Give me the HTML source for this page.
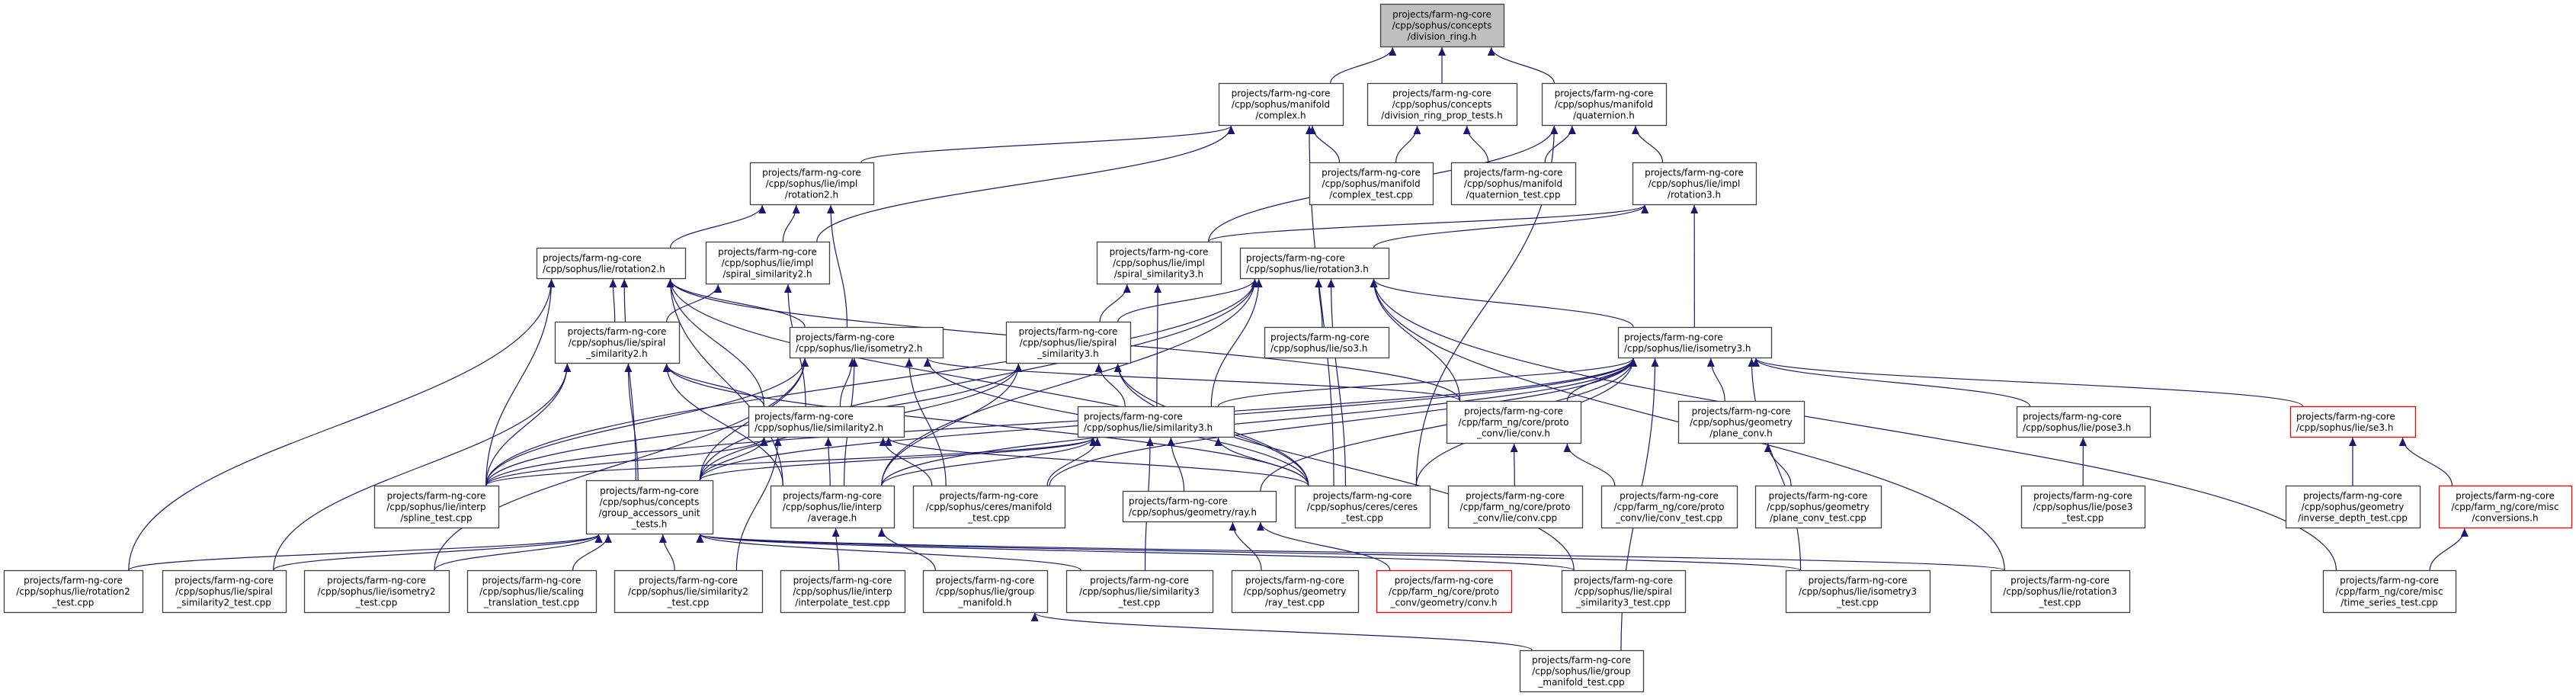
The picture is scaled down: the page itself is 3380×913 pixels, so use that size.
<!DOCTYPE html>
<html><head><meta charset="utf-8"><style>
html,body{margin:0;padding:0;background:#fff;}
svg{display:block;}
text{font-family:"DejaVu Sans","Liberation Sans",sans-serif;font-size:12px;fill:#000;}
</style></head><body>
<svg id="g" width="3380" height="913" viewBox="0 0 3380 913" xmlns="http://www.w3.org/2000/svg">
<defs><marker id="a" markerUnits="userSpaceOnUse" markerWidth="12" markerHeight="10" refX="11" refY="5" orient="auto"><path d="M0,0 L11,5 L0,10 z" fill="#191970"/></marker></defs>
<g id="E" fill="none" stroke="#191970" stroke-width="1.2"></g>
<g id="N"></g>
</svg>
<script>
var N={
root:[1811,1973,5,61,["projects/farm-ng-core","/cpp/sophus/concepts","/division_ring.h"],"g"],
complex:[1599,1762,109,164,["projects/farm-ng-core","/cpp/sophus/manifold","/complex.h"]],
divprop:[1794,1990,109,164,["projects/farm-ng-core","/cpp/sophus/concepts","/division_ring_prop_tests.h"]],
quat:[2023,2186,109,164,["projects/farm-ng-core","/cpp/sophus/manifold","/quaternion.h"]],
cplxtest:[1718,1880,213,268,["projects/farm-ng-core","/cpp/sophus/manifold","/complex_test.cpp"]],
quattest:[1904,2067,213,268,["projects/farm-ng-core","/cpp/sophus/manifold","/quaternion_test.cpp"]],
irot2:[984,1146,213,268,["projects/farm-ng-core","/cpp/sophus/lie/impl","/rotation2.h"]],
irot3:[2142,2304,213,268,["projects/farm-ng-core","/cpp/sophus/lie/impl","/rotation3.h"]],
rot2:[704,899,325,365,["projects/farm-ng-core","/cpp/sophus/lie/rotation2.h"]],
iss2:[926,1088,317,372,["projects/farm-ng-core","/cpp/sophus/lie/impl","/spiral_similarity2.h"]],
iss3:[1439,1602,317,372,["projects/farm-ng-core","/cpp/sophus/lie/impl","/spiral_similarity3.h"]],
rot3:[1627,1822,325,365,["projects/farm-ng-core","/cpp/sophus/lie/rotation3.h"]],
lss2:[728,891,422,476,["projects/farm-ng-core","/cpp/sophus/lie/spiral","_similarity2.h"]],
iso2:[1036,1237,429,469,["projects/farm-ng-core","/cpp/sophus/lie/isometry2.h"]],
lss3:[1320,1483,422,476,["projects/farm-ng-core","/cpp/sophus/lie/spiral","_similarity3.h"]],
so3:[1659,1822,429,469,["projects/farm-ng-core","/cpp/sophus/lie/so3.h"]],
iso3:[2123,2324,429,469,["projects/farm-ng-core","/cpp/sophus/lie/isometry3.h"]],
sim2:[982,1186,533,573,["projects/farm-ng-core","/cpp/sophus/lie/similarity2.h"]],
sim3:[1414,1619,533,573,["projects/farm-ng-core","/cpp/sophus/lie/similarity3.h"]],
convh:[1898,2074,526,581,["projects/farm-ng-core","/cpp/farm_ng/core/proto","_conv/lie/conv.h"]],
plconv:[2202,2367,526,581,["projects/farm-ng-core","/cpp/sophus/geometry","/plane_conv.h"]],
pose3:[2646,2821,533,573,["projects/farm-ng-core","/cpp/sophus/lie/pose3.h"]],
se3:[3005,3169,533,573,["projects/farm-ng-core","/cpp/sophus/lie/se3.h"],"r"],
spline:[491,654,637,692,["projects/farm-ng-core","/cpp/sophus/lie/interp","/spline_test.cpp"]],
gacc:[769,935,630,700,["projects/farm-ng-core","/cpp/sophus/concepts","/group_accessors_unit","_tests.h"]],
avg:[1011,1173,637,692,["projects/farm-ng-core","/cpp/sophus/lie/interp","/average.h"]],
cman:[1198,1397,637,692,["projects/farm-ng-core","/cpp/sophus/ceres/manifold","_test.cpp"]],
ray:[1473,1674,644,684,["projects/farm-ng-core","/cpp/sophus/geometry/ray.h"]],
ctest:[1699,1876,637,692,["projects/farm-ng-core","/cpp/sophus/ceres/ceres","_test.cpp"]],
convcpp:[1900,2076,637,692,["projects/farm-ng-core","/cpp/farm_ng/core/proto","_conv/lie/conv.cpp"]],
convtest:[2101,2279,637,692,["projects/farm-ng-core","/cpp/farm_ng/core/proto","_conv/lie/conv_test.cpp"]],
plconvtest:[2303,2468,637,692,["projects/farm-ng-core","/cpp/sophus/geometry","/plane_conv_test.cpp"]],
pose3test:[2652,2814,637,692,["projects/farm-ng-core","/cpp/sophus/lie/pose3","_test.cpp"]],
invdepth:[2999,3175,637,692,["projects/farm-ng-core","/cpp/sophus/geometry","/inverse_depth_test.cpp"]],
conversions:[3200,3374,637,692,["projects/farm-ng-core","/cpp/farm_ng/core/misc","/conversions.h"],"r"],
rot2test:[5,187,748,803,["projects/farm-ng-core","/cpp/sophus/lie/rotation2","_test.cpp"]],
ss2test:[213,375,748,803,["projects/farm-ng-core","/cpp/sophus/lie/spiral","_similarity2_test.cpp"]],
iso2test:[399,589,748,803,["projects/farm-ng-core","/cpp/sophus/lie/isometry2","_test.cpp"]],
sctest:[613,782,748,803,["projects/farm-ng-core","/cpp/sophus/lie/scaling","_translation_test.cpp"]],
sim2test:[806,1000,748,803,["projects/farm-ng-core","/cpp/sophus/lie/similarity2","_test.cpp"]],
interp:[1024,1187,748,803,["projects/farm-ng-core","/cpp/sophus/lie/interp","/interpolate_test.cpp"]],
gman:[1211,1374,748,803,["projects/farm-ng-core","/cpp/sophus/lie/group","_manifold.h"]],
sim3test:[1399,1591,748,803,["projects/farm-ng-core","/cpp/sophus/lie/similarity3","_test.cpp"]],
raytest:[1616,1782,748,803,["projects/farm-ng-core","/cpp/sophus/geometry","/ray_test.cpp"]],
gconv:[1806,1983,748,803,["projects/farm-ng-core","/cpp/farm_ng/core/proto","_conv/geometry/conv.h"],"r"],
ss3test:[2049,2211,748,803,["projects/farm-ng-core","/cpp/sophus/lie/spiral","_similarity3_test.cpp"]],
iso3test:[2343,2532,748,803,["projects/farm-ng-core","/cpp/sophus/lie/isometry3","_test.cpp"]],
rot3test:[2612,2794,748,803,["projects/farm-ng-core","/cpp/sophus/lie/rotation3","_test.cpp"]],
tstest:[3048,3222,748,803,["projects/farm-ng-core","/cpp/farm_ng/core/misc","/time_series_test.cpp"]],
gmantest:[1994,2156,853,907,["projects/farm-ng-core","/cpp/sophus/lie/group","_manifold_test.cpp"]]
};
var E=[
["complex","root"],["divprop","root"],["quat","root"],
["irot2","complex"],["iss2","complex"],["cplxtest","complex"],["ctest","complex"],
["cplxtest","divprop"],["quattest","divprop"],
["quattest","quat"],["irot3","quat"],["iss3","quat"],["ctest","quat"],
["rot2","irot2"],["iss2","irot2"],["iso2","irot2"],
["rot3","irot3"],["iss3","irot3"],["iso3","irot3"],
["lss2","rot2"],["iso2","rot2"],["spline","rot2"],["gacc","rot2"],["rot2test","rot2"],["avg","rot2"],["convh","rot2"],["ctest","rot2"],["sim2","rot2"],
["lss2","iss2"],["sim2","iss2"],
["lss3","iss3"],["sim3","iss3"],
["so3","rot3"],["iso3","rot3"],["lss3","rot3"],["spline","rot3"],["gacc","rot3"],["avg","rot3"],["convh","rot3"],["ctest","rot3"],["rot3test","rot3"],["tstest","rot3"],["sim3","rot3"],
["sim2","lss2"],["gacc","lss2"],["spline","lss2"],["ss2test","lss2"],["avg","lss2"],["ctest","lss2"],
["sim2","iso2"],["gacc","iso2"],["spline","iso2"],["iso2test","iso2"],["avg","iso2"],["ctest","iso2"],["cman","iso2"],["convh","iso2"],
["sim3","lss3"],["gacc","lss3"],["spline","lss3"],["avg","lss3"],["ss3test","lss3"],["ctest","lss3"],
["sim3","iso3"],["convh","iso3"],["plconv","iso3"],["pose3","iso3"],["se3","iso3"],["ctest","iso3"],["ray","iso3"],["iso3test","iso3"],["gacc","iso3"],["spline","iso3"],["avg","iso3"],["gmantest","iso3"],["cman","iso3"],
["spline","sim2"],["gacc","sim2"],["avg","sim2"],["sim2test","sim2"],["ctest","sim2"],["cman","sim2"],
["spline","sim3"],["gacc","sim3"],["avg","sim3"],["cman","sim3"],["ray","sim3"],["ctest","sim3"],["sim3test","sim3"],
["convcpp","convh"],["convtest","convh"],["plconvtest","plconv"],["pose3test","pose3"],
["invdepth","se3"],["conversions","se3"],["tstest","conversions"],
["rot2test","gacc"],["ss2test","gacc"],["iso2test","gacc"],["sctest","gacc"],["sim2test","gacc"],["sim3test","gacc"],["ss3test","gacc"],["iso3test","gacc"],["rot3test","gacc"],
["interp","avg"],["gman","avg"],["raytest","ray"],["gconv","ray"],["gmantest","gman"]
];
var NS="http://www.w3.org/2000/svg";
function el(t,a,p){var e=document.createElementNS(NS,t);for(var k in a)e.setAttribute(k,a[k]);p.appendChild(e);return e;}
var gN=document.getElementById("N"),gE=document.getElementById("E");
function cl(v,m){return Math.max(-m,Math.min(m,v));}
E.forEach(function(e){
 var c=N[e[0]],p=N[e[1]];
 var ccx=(c[0]+c[1])/2,pcx=(p[0]+p[1])/2,chw=(c[1]-c[0])/2,phw=(p[1]-p[0])/2;
 var sx=ccx+cl((pcx-ccx)*0.35,chw*0.8),sy=c[2];
 var ex=pcx+cl((ccx-pcx)*0.35,phw*0.8),ey=p[3]+1;
 var d;
 if(sy<=ey+5){ // same row or below: route to side
   sx=ccx; sy=c[2]; ex=(ccx>pcx?p[1]:p[0]); ey=(p[2]+p[3])/2;
   d="M"+sx+","+sy+" C"+sx+","+(sy-60)+" "+(ex+(ccx>pcx?80:-80))+","+ey+" "+ex+","+ey;
 } else {
   var dy=sy-ey;
   d="M"+sx+","+sy+" C"+sx+","+(sy-dy*0.45)+" "+ex+","+(ey+dy*0.45)+" "+ex+","+ey;
 }
 el("path",{d:d,"marker-end":"url(#a)"},gE);
});
for(var k in N){var n=N[k];
 var st=n[5]=="r"?"#ff0000":"#404040",fill=n[5]=="g"?"#bfbfbf":"#ffffff";
 el("rect",{x:n[0]+0.5,y:n[2]+0.5,width:n[1]-n[0],height:n[3]-n[2],fill:fill,stroke:st,"stroke-width":1.3},gN);
 var L=n[4],h=n[3]-n[2],cx=(n[0]+n[1])/2,lh=14.5,y0=n[2]+h/2-(L.length-1)*lh/2+4.5;
 var anchor="middle",tx=cx;
 if(L.length==2&&L[1].length>16&&n[3]-n[2]<45){anchor="start";tx=n[0]+8;}
 L.forEach(function(s,i){var t=el("text",{x:tx,y:y0+i*lh,"text-anchor":anchor},gN);t.textContent=s;});
}
</script>
</body></html>
